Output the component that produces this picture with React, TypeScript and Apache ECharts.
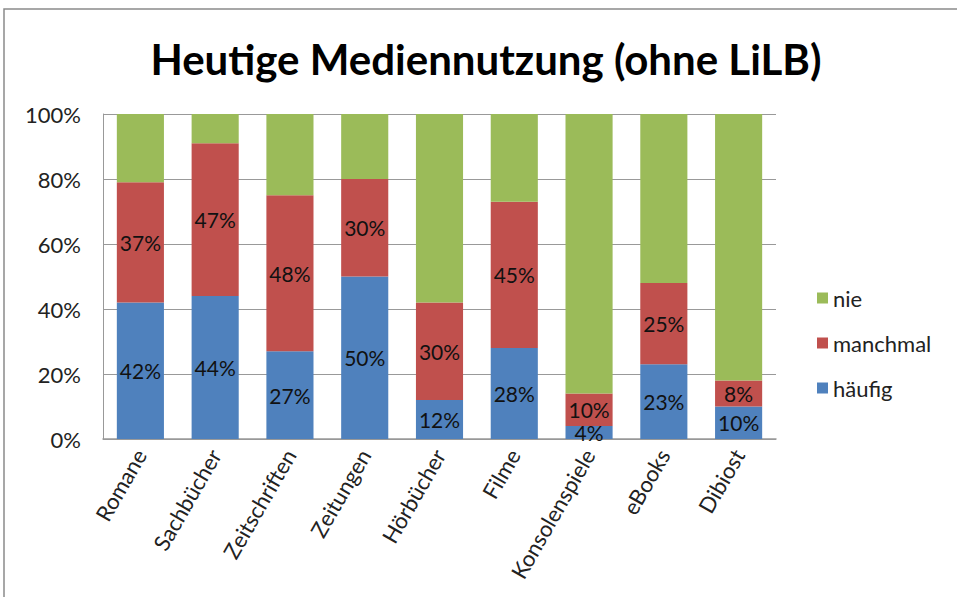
import React, { useEffect, useRef } from "react";
import * as echarts from "echarts";

const categories = ["Romane", "Sachbücher", "Zeitschriften", "Zeitungen", "Hörbücher", "Filme", "Konsolenspiele", "eBooks", "Dibiost"];
const haeufig = [42, 44, 27, 50, 12, 28, 4, 23, 10];
const manchmal = [37, 47, 48, 30, 30, 45, 10, 25, 8];
const nie = [21, 9, 25, 20, 58, 27, 86, 52, 82];
const legendOrder = ["nie", "manchmal", "häufig"];

const FONT = "Lato, 'Open Sans', sans-serif";

export default function App() {
  const ref = useRef<HTMLDivElement>(null);
  useEffect(() => {
    if (!ref.current) return;
    const chart = echarts.init(ref.current, undefined, { renderer: "svg" });
    const label = {
      show: true,
      position: "inside",
      formatter: "{c}%",
      color: "#111",
      fontSize: 21,
      fontFamily: FONT,
    };
    chart.setOption({
      animation: false,
      backgroundColor: "#fff",
      textStyle: { fontFamily: FONT },
      title: {
        text: "Heutige Mediennutzung (ohne LiLB)",
        left: 481,
        textAlign: "center",
        top: 33,
        textStyle: { fontSize: 42, fontWeight: "bold", color: "#000", fontFamily: FONT },
      },
      legend: {
        data: legendOrder,
        orient: "vertical",
        left: 812,
        top: 282,
        itemWidth: 11,
        itemHeight: 11,
        itemGap: 23,
        icon: "rect",
        textStyle: { fontSize: 22, color: "#222", fontFamily: FONT },
      },
      grid: { left: 103, top: 114, right: 181, bottom: 158, containLabel: false },
      xAxis: {
        type: "category",
        data: categories,
        axisLine: { show: true, lineStyle: { color: "#999", width: 1.5 } },
        axisTick: { show: false },
        axisLabel: { rotate: 60, fontSize: 22, color: "#222", margin: 12, fontFamily: FONT, interval: 0 },
      },
      yAxis: {
        type: "value",
        min: 0,
        max: 100,
        interval: 20,
        axisLine: { show: true, lineStyle: { color: "#999" } },
        axisTick: { show: false },
        axisLabel: { formatter: "{value}%", fontSize: 22, color: "#222", margin: 22, fontFamily: FONT },
        splitLine: { show: true, lineStyle: { color: "#999", width: 1 } },
      },
      series: [
        { name: "häufig", type: "bar", stack: "a", data: haeufig, barWidth: "63%", itemStyle: { color: "#4F81BD" }, label },
        { name: "manchmal", type: "bar", stack: "a", data: manchmal, itemStyle: { color: "#C0504D" }, label },
        { name: "nie", type: "bar", stack: "a", data: nie, itemStyle: { color: "#9BBB59" }, label: { show: false } },
      ],
      graphic: [
        {
          type: "rect",
          shape: { x: 4, y: 9, width: 1000, height: 700 },
          style: { fill: "none", stroke: "#8a8a8a", lineWidth: 1.5 },
          silent: true,
        },
      ],
    });
    return () => chart.dispose();
  }, []);
  return <div ref={ref} style={{ position: "fixed", left: 0, top: 0, width: 957, height: 597 }} />;
}
